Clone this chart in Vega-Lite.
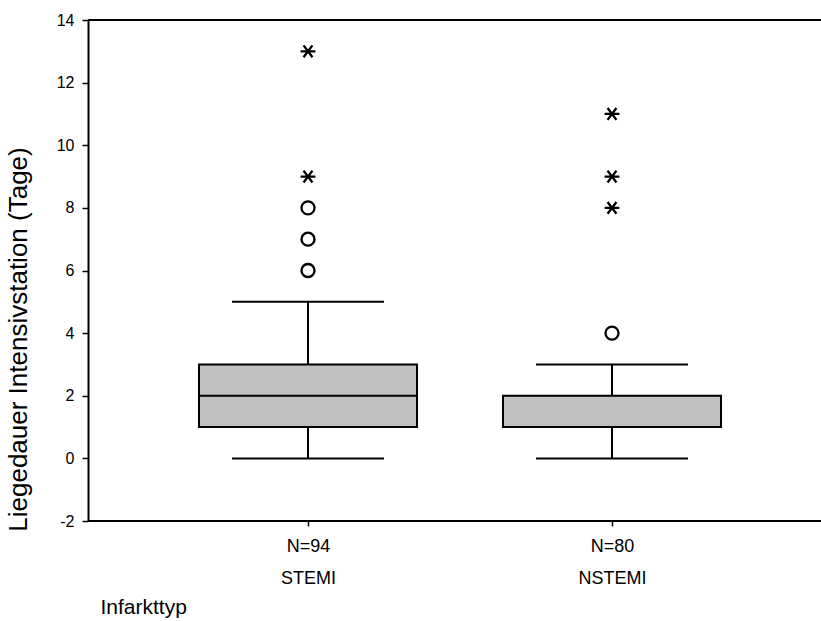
{
  "$schema": "https://vega.github.io/schema/vega-lite/v6.json",
  "width": 733,
  "height": 501,
  "autosize": {"type": "none"},
  "padding": {"left": 88, "top": 20, "right": 0, "bottom": 100},
  "background": "white",
  "config": {
    "view": {"stroke": null},
    "font": "Liberation Sans",
    "axis": {
      "grid": false,
      "domainColor": "black",
      "domainWidth": 2,
      "tickColor": "black",
      "tickWidth": 1.5,
      "labelColor": "black",
      "titleColor": "black",
      "labelFont": "Liberation Sans",
      "titleFont": "Liberation Sans",
      "titleFontWeight": "normal"
    }
  },
  "datasets": {
    "boxes": [
      {"typ": "STEMI", "lower": 0, "q1": 1, "median": 2, "q3": 3, "upper": 5},
      {"typ": "NSTEMI", "lower": 0, "q1": 1, "median": 1, "q3": 2, "upper": 3}
    ],
    "outliers": [
      {"typ": "STEMI", "wert": 6, "art": "Ausreißer"},
      {"typ": "STEMI", "wert": 7, "art": "Ausreißer"},
      {"typ": "STEMI", "wert": 8, "art": "Ausreißer"},
      {"typ": "STEMI", "wert": 9, "art": "Extremwert"},
      {"typ": "STEMI", "wert": 13, "art": "Extremwert"},
      {"typ": "NSTEMI", "wert": 4, "art": "Ausreißer"},
      {"typ": "NSTEMI", "wert": 8, "art": "Extremwert"},
      {"typ": "NSTEMI", "wert": 9, "art": "Extremwert"},
      {"typ": "NSTEMI", "wert": 11, "art": "Extremwert"}
    ]
  },
  "encoding": {
    "x": {
      "field": "typ",
      "type": "nominal",
      "sort": ["STEMI", "NSTEMI"],
      "scale": {"type": "point", "range": [220, 524], "padding": 0},
      "axis": {
        "title": "Infarkttyp",
        "titleFontSize": 21,
        "titleAnchor": "start",
        "titleAlign": "left",
        "titleBaseline": "alphabetic",
        "titleX": 12,
        "titleY": 92,
        "domain": false,
        "labelAngle": 0,
        "labelFontSize": 18,
        "labelLineHeight": 32,
        "labelBaseline": "top",
        "labelPadding": 11,
        "tickSize": 5,
        "labelExpr": "datum.value == 'STEMI' ? ['N=94', 'STEMI'] : ['N=80', 'NSTEMI']"
      }
    }
  },
  "layer": [
    {
      "data": {"name": "boxes"},
      "mark": {"type": "rule", "color": "black", "strokeWidth": 2, "opacity": 1},
      "encoding": {
        "y": {
          "field": "lower", "type": "quantitative",
          "title": "Liegedauer Intensivstation (Tage)",
          "scale": {"domain": [-2, 14], "nice": false, "zero": false},
          "axis": {
            "values": [-2, 0, 2, 4, 6, 8, 10, 12, 14],
            "labelExpr": "'' + datum.value",
            "labelFontSize": 16,
            "tickSize": 6,
            "labelPadding": 8,
            "titleFontSize": 26,
            "titleX": -70,
            "titleY": 319,
            "titleAngle": 270,
            "titleBaseline": "middle",
            "titleAlign": "center"
          }
        },
        "y2": {"field": "upper"}
      }
    },
    {
      "data": {"name": "boxes"},
      "mark": {"type": "tick", "color": "black", "size": 152, "thickness": 2, "opacity": 1},
      "encoding": {
        "y": {"field": "lower", "type": "quantitative", "title": "Liegedauer Intensivstation (Tage)"}
      }
    },
    {
      "data": {"name": "boxes"},
      "mark": {"type": "tick", "color": "black", "size": 152, "thickness": 2, "opacity": 1},
      "encoding": {
        "y": {"field": "upper", "type": "quantitative", "title": "Liegedauer Intensivstation (Tage)"}
      }
    },
    {
      "data": {"name": "boxes"},
      "mark": {"type": "bar", "size": 218, "fill": "#c0c0c0", "stroke": "black", "strokeWidth": 2, "opacity": 1},
      "encoding": {
        "y": {"field": "q1", "type": "quantitative", "title": "Liegedauer Intensivstation (Tage)"},
        "y2": {"field": "q3"}
      }
    },
    {
      "data": {"name": "boxes"},
      "mark": {"type": "tick", "color": "black", "size": 218, "thickness": 2, "opacity": 1},
      "encoding": {
        "y": {"field": "median", "type": "quantitative", "title": "Liegedauer Intensivstation (Tage)"}
      }
    },
    {
      "data": {"name": "outliers"},
      "mark": {"type": "point", "filled": false, "color": "black", "strokeWidth": 2.3, "opacity": 1},
      "encoding": {
        "y": {"field": "wert", "type": "quantitative", "title": "Liegedauer Intensivstation (Tage)"},
        "shape": {
          "field": "art", "type": "nominal",
          "scale": {"domain": ["Ausreißer", "Extremwert"], "range": ["circle", "M-1,0L1,0M-0.6,-0.8L0.6,0.8M-0.6,0.8L0.6,-0.8"]},
          "legend": null
        },
        "size": {
          "field": "art", "type": "nominal",
          "scale": {"domain": ["Ausreißer", "Extremwert"], "range": [170, 220]},
          "legend": null
        }
      }
    },
    {
      "data": {"values": [{"pos": 14}, {"pos": -2}]},
      "mark": {"type": "rule", "color": "black", "strokeWidth": 2},
      "encoding": {"x": null, "y": {"field": "pos", "type": "quantitative", "title": "Liegedauer Intensivstation (Tage)"}}
    }
  ]
}
